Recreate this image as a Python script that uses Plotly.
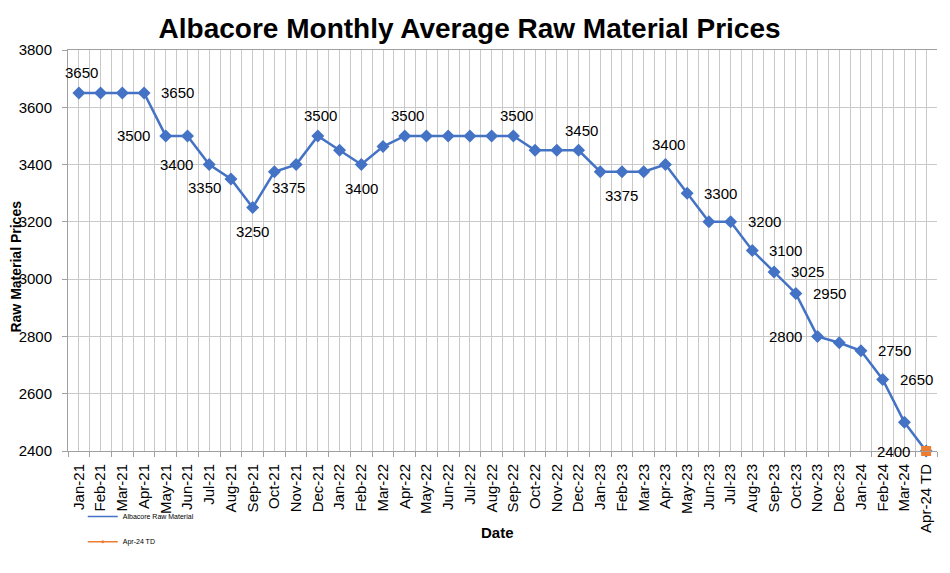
import plotly.graph_objects as go

# Monthly values
months = ['Jan-21', 'Feb-21', 'Mar-21', 'Apr-21', 'May-21', 'Jun-21', 'Jul-21', 'Aug-21',
          'Sep-21', 'Oct-21', 'Nov-21', 'Dec-21', 'Jan-22', 'Feb-22', 'Mar-22', 'Apr-22',
          'May-22', 'Jun-22', 'Jul-22', 'Aug-22', 'Sep-22', 'Oct-22', 'Nov-22', 'Dec-22',
          'Jan-23', 'Feb-23', 'Mar-23', 'Apr-23', 'May-23', 'Jun-23', 'Jul-23', 'Aug-23',
          'Sep-23', 'Oct-23', 'Nov-23', 'Dec-23', 'Jan-24', 'Feb-24', 'Mar-24', 'Apr-24 TD']
prices = [3650, 3650, 3650, 3650, 3500, 3500, 3400, 3350,
          3250, 3375, 3400, 3500, 3450, 3400, 3463, 3500,
          3500, 3500, 3500, 3500, 3500, 3450, 3450, 3450,
          3375, 3375, 3375, 3400, 3300, 3200, 3200, 3100,
          3025, 2950, 2800, 2778, 2750, 2650, 2500, 2400]
# which points carry a data label
labelled = [1, 0, 0, 1, 1, 0, 1, 1,
            1, 1, 0, 1, 0, 1, 0, 1,
            0, 0, 0, 0, 1, 0, 0, 1,
            0, 1, 0, 1, 1, 0, 1, 1,
            1, 1, 1, 0, 1, 1, 0, 1]
td_month = ['Apr-24 TD']
td_price = [2400]

# label placement (style only): t=above, b=below, l=left, r=right, bl/br=below-left/right
label_pos = ['t', '', '', 'r', 'l', '', 'l', 'bl',
             'b', 'br', '', 't', '', 'b', '', 't',
             '', '', '', '', 't', '', '', 't',
             '', 'b', '', 't', 'r', '', 'r', 'r',
             'r', 'r', 'l', '', 'r', 'r', '', 'l']
# (xanchor, xshift, yshift) in pixels for each placement
offsets = {
    't': ('center', 3, 20),
    'b': ('center', 0, -24),
    'l': ('right', -14, 0),
    'r': ('left', 15, 0),
    'bl': ('right', -8, -9),
    'br': ('left', -4, -16),
}

idx = list(range(len(months)))

BLUE = '#4472C4'
ORANGE = '#ED7D31'
GRID = '#C9C9C9'
FONT = 'Liberation Sans'

fig = go.Figure()

fig.add_trace(go.Scatter(
    x=idx, y=prices, mode='lines+markers',
    line=dict(color=BLUE, width=2.5),
    marker=dict(symbol='diamond', size=10, color=BLUE),
    cliponaxis=False, showlegend=False, name='Albacore Raw Material'
))

fig.add_trace(go.Scatter(
    x=[months.index(m) for m in td_month], y=td_price, mode='markers',
    marker=dict(symbol='square', size=10, color=ORANGE),
    cliponaxis=False, showlegend=False, name='Apr-24 TD'
))

# legend entries (one small legend each, so they can sit low without pushing the plot)
fig.add_trace(go.Scatter(x=[None], y=[None], mode='lines', name='Albacore Raw Material',
                         line=dict(color=BLUE, width=1.5), legend='legend'))
fig.add_trace(go.Scatter(x=[None], y=[None], mode='lines+markers', name='Apr-24 TD',
                         line=dict(color=ORANGE, width=1.5), marker=dict(size=3, color=ORANGE),
                         legend='legend2'))

# data labels
for i, p, lab, pos in zip(idx, prices, labelled, label_pos):
    if not lab:
        continue
    xa, dx, dy = offsets[pos]
    fig.add_annotation(x=i, y=p, text=str(p), showarrow=False,
                       xanchor=xa, yanchor='middle', xshift=dx, yshift=dy,
                       font=dict(family=FONT, size=15, color='#000000'))

# axis titles, placed by hand
fig.add_annotation(xref='paper', yref='paper', x=0, y=0.46, xshift=-52,
                   text='<b>Raw Material Prices</b>', textangle=-90, showarrow=False,
                   xanchor='center', yanchor='middle',
                   font=dict(family=FONT, size=14, color='#000000'))
fig.add_annotation(xref='paper', yref='paper', x=0.494, y=-0.204,
                   text='<b>Date</b>', showarrow=False,
                   xanchor='center', yanchor='middle',
                   font=dict(family=FONT, size=15, color='#000000'))

legend_style = dict(xanchor='left', yanchor='top', font=dict(family=FONT, size=7),
                    itemwidth=30, bgcolor='rgba(0,0,0,0)')

# page body keeps an 8px margin, so the figure is sized to fill the rest of the window
fig.update_layout(
    width=942, height=565,
    margin=dict(l=60, r=13, t=42, b=122),
    paper_bgcolor='white', plot_bgcolor='white',
    font=dict(family=FONT, color='#000000'),
    title=dict(text='<b>Albacore Monthly Average Raw Material Prices</b>',
               x=0.49, xanchor='center', y=0.965, yanchor='middle',
               font=dict(family=FONT, size=28, color='#000000')),
    legend=dict(x=0.017, y=-0.127, **legend_style),
    legend2=dict(x=0.017, y=-0.19, **legend_style),
)

fig.update_xaxes(
    range=[-0.5, len(months) - 0.5],
    tickvals=idx, ticktext=months, tickangle=-90,
    tickfont=dict(family=FONT, size=15),
    showgrid=True, gridcolor=GRID, gridwidth=1,
    ticks='', ticklabelstandoff=6,
    minor=dict(tick0=0.5, dtick=1, showgrid=True, gridcolor=GRID, gridwidth=1,
               ticks='outside', ticklen=5, tickcolor='#A0A0A0'),
    showline=True, linecolor='#A0A0A0', linewidth=1, mirror=True,
    zeroline=False, automargin=False,
)

fig.update_yaxes(
    range=[2400, 3800], dtick=200,
    tickfont=dict(family=FONT, size=15),
    showgrid=True, gridcolor=GRID, gridwidth=1,
    ticks='outside', ticklen=5, tickcolor='#A0A0A0', ticklabelstandoff=7,
    showline=True, linecolor='#A0A0A0', linewidth=1,
    zeroline=False, automargin=False,
)

fig.write_html('out.html')
